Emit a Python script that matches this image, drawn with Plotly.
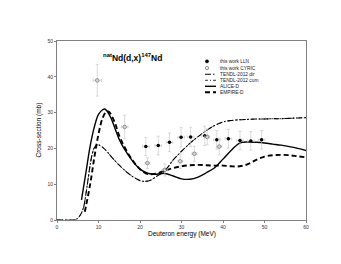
import plotly.graph_objects as go

# ---- data ----
lln_e = [21.4, 24.4, 27.1, 29.9, 32.2, 35.6, 38.5, 41.3, 44.1, 46.7, 49.3]
lln_cs = [20.5, 20.8, 21.7, 23.1, 23.2, 23.5, 22.4, 22.7, 22.2, 22.1, 22.4]
lln_dcs = [2.5, 2.6, 2.6, 2.7, 2.7, 2.7, 2.6, 2.6, 2.6, 2.6, 2.6]
lln_de = [0.8] * 11

cyric_e = [9.7, 16.3, 21.8, 26.0, 29.7, 33.1, 36.2, 39.1]
cyric_cs = [39.0, 26.0, 15.9, 14.0, 16.4, 18.5, 23.2, 20.5]
cyric_dcs = [4.4, 3.3, 1.5, 1.7, 2.0, 2.1, 2.2, 2.3]
cyric_de = [1.0, 0.8, 0.6, 0.6, 0.6, 0.6, 0.6, 0.6]

tendl_e = [0, 2, 4, 4.5, 5, 5.5, 6, 6.5, 7, 7.5, 8, 8.5, 9, 9.5, 10, 11, 12, 13, 14, 15, 16, 17,
           18, 19, 20, 21, 22, 23, 24, 25, 26, 27, 28, 29, 30, 31, 32, 34, 36, 38, 40, 42, 44,
           46, 48, 50, 52, 54, 56, 58, 60]
tendl_cum = [0, 0, 0, 0.1, 0.5, 1.2, 2.2, 4.0, 7.5, 11.5, 15.5, 18.5, 20.2, 20.9, 21.0, 20.3,
             19.2, 17.8, 16.5, 15.3, 14.2, 13.2, 12.3, 11.6, 11.0, 10.8, 10.9, 11.4, 12.2, 12.9,
             13.8, 15.2, 16.8, 18.0, 19.2, 20.3, 21.4, 23.3, 25.0, 26.4, 27.4, 27.8, 28.0, 28.1,
             28.2, 28.2, 28.3, 28.3, 28.4, 28.5, 28.6]
tendl_dir = [0, 0, 0, 0.1, 0.5, 1.2, 2.2, 4.0, 7.5, 11.5, 15.5, 18.5, 20.2, 20.9, 21.0, 20.3,
             19.2, 17.8, 16.5, 15.3, 14.2, 13.2, 12.3, 11.6, 11.0, 10.8, 10.9, 11.4, 12.2, 12.9,
             13.8, 15.2, 16.8, 18.0, 19.2, 20.3, 21.4, 23.3, 25.0, 26.4, 27.4, 27.8, 28.0, 28.1,
             28.2, 28.2, 28.3, 28.3, 28.4, 28.5, 28.6]

alice_e = [5.9, 7, 8, 9, 10, 11, 11.5, 12, 13, 14, 15, 16, 18, 20, 22, 24, 26, 28, 30, 32, 34,
           36, 38, 40, 42, 44, 46, 48, 50, 52, 54, 56, 58, 60]
alice_cs = [5.6, 13.5, 20.7, 26.0, 29.5, 30.8, 31.0, 30.5, 28.5, 25.5, 22.5, 20.3, 16.8, 14.2,
            13.0, 12.8, 13.0, 12.3, 11.5, 11.4, 12.0, 13.2, 14.6, 17.0, 19.5, 21.5, 21.8, 21.7,
            21.5, 21.2, 20.9, 20.5, 20.0, 19.4]

empire_e = [6.7, 7, 8, 9, 10, 11, 12, 12.5, 13, 14, 15, 16, 18, 20, 22, 24, 26, 28, 30, 32, 34,
            36, 38, 40, 42, 44, 46, 48, 50, 52, 54, 56, 58, 60]
empire_cs = [2.3, 4.0, 10.0, 17.5, 24.0, 28.5, 30.4, 30.2, 29.5, 27.0, 23.5, 21.0, 17.0, 14.2,
             12.8, 13.0, 13.8, 14.5, 15.0, 15.3, 15.4, 15.3, 15.2, 15.2, 15.0, 15.0, 15.6, 16.8,
             17.7, 18.1, 18.2, 18.1, 17.8, 17.5]

x_ticks = [0, 10, 20, 30, 40, 50, 60]
y_ticks = [0, 10, 20, 30, 40, 50]

FONT = "Liberation Sans, Arial, sans-serif"
ERRC = "#c8c8c8"

fig = go.Figure()

fig.add_trace(go.Scatter(x=tendl_e, y=tendl_dir, mode="lines", line_shape="spline",
                         line=dict(color="black", width=1.1, dash="6px,2px,1.5px,2px"),
                         name="TENDL-2012 dir"))
fig.add_trace(go.Scatter(x=tendl_e, y=tendl_cum, mode="lines", line_shape="spline",
                         line=dict(color="black", width=0.8, dash="3px,2px,1px,2px"),
                         name="TENDL-2012 cum"))
fig.add_trace(go.Scatter(x=alice_e, y=alice_cs, mode="lines", line_shape="spline",
                         line=dict(color="black", width=1.4), name="ALICE-D"))
fig.add_trace(go.Scatter(x=empire_e, y=empire_cs, mode="lines", line_shape="spline",
                         line=dict(color="black", width=1.9, dash="5px,3px"), name="EMPIRE-D"))

fig.add_trace(go.Scatter(
    x=lln_e, y=lln_cs, mode="markers", name="this work LLN",
    marker=dict(symbol="circle", size=3.5, color="black"),
    error_y=dict(type="data", array=lln_dcs, color=ERRC, thickness=0.7, width=1.5),
    error_x=dict(type="data", array=lln_de, color=ERRC, thickness=0.7, width=1.5)))
fig.add_trace(go.Scatter(
    x=cyric_e, y=cyric_cs, mode="markers", name="this work CYRIC",
    marker=dict(symbol="circle-open", size=3.5, color="#707070", line=dict(width=0.8)),
    error_y=dict(type="data", array=cyric_dcs, color=ERRC, thickness=0.7, width=1.5),
    error_x=dict(type="data", array=cyric_de, color=ERRC, thickness=0.7, width=1.5)))

axis_common = dict(showline=True, linecolor="#808080", linewidth=1, mirror=True,
                   showgrid=False, zeroline=False, ticks="outside", ticklen=2,
                   tickcolor="#808080", tickfont=dict(size=5, family=FONT, color="#333"))

fig.update_layout(
    width=341, height=264,
    margin=dict(l=49, r=43, t=33, b=52.4),
    paper_bgcolor="white", plot_bgcolor="white",
    showlegend=False,
    font=dict(family=FONT, color="black"),
    xaxis=dict(range=[0, 60], tickvals=x_ticks, **axis_common),
    yaxis=dict(range=[0, 50], tickvals=y_ticks, **axis_common),
)

anns = []
anns.append(dict(text="<b><sup>nat</sup>Nd(d,x)<sup>147</sup>Nd</b>", x=0.304, y=0.909,
                 xref="paper", yref="paper", showarrow=False, xanchor="center",
                 yanchor="middle", font=dict(size=8.5, family=FONT)))
anns.append(dict(text="Deuteron energy (MeV)", x=0.5, y=(211.6 - 226) / 178.6,
                 xref="paper", yref="paper", showarrow=False, xanchor="center",
                 yanchor="middle", font=dict(size=6.5, family=FONT)))
anns.append(dict(text="Cross-section (mb)", x=(30 - 49) / 249, y=0.5, textangle=-90,
                 xref="paper", yref="paper", showarrow=False, xanchor="center",
                 yanchor="middle", font=dict(size=6.5, family=FONT)))

# manual compact legend
leg_rows = [53.3, 60.0, 66.2, 72.2, 78.2, 84.2]
leg_labels = ["this work LLN", "this work CYRIC", "TENDL-2012 dir", "TENDL-2012 cum",
              "ALICE-D", "EMPIRE-D"]
def py(v):
    return (211.6 - v) / 178.6
def px(v):
    return (v - 49) / 249
for r, lab in zip(leg_rows, leg_labels):
    anns.append(dict(text=lab, x=px(209.5), y=py(r), xref="paper", yref="paper",
                     showarrow=False, xanchor="left", yanchor="middle",
                     font=dict(size=4.8, family=FONT, color="#222")))
shapes = []
# legend marker samples (pixel-sized circles)
shapes.append(dict(type="circle", xref="paper", yref="paper", xsizemode="pixel",
                   ysizemode="pixel", xanchor=px(199), yanchor=py(leg_rows[0]),
                   x0=-1.6, x1=1.6, y0=-1.6, y1=1.6, fillcolor="black",
                   line=dict(color="black", width=0.5)))
shapes.append(dict(type="circle", xref="paper", yref="paper", xsizemode="pixel",
                   ysizemode="pixel", xanchor=px(199), yanchor=py(leg_rows[1]),
                   x0=-1.6, x1=1.6, y0=-1.6, y1=1.6, fillcolor="white",
                   line=dict(color="#707070", width=0.8)))
styles = [(1.1, "6px,2px,1.5px,2px"), (0.8, "3px,2px,1px,2px"), (1.4, "solid"), (1.9, "5px,3px")]
for r, (w, d) in zip(leg_rows[2:], styles):
    shapes.append(dict(type="line", xref="paper", yref="paper", x0=px(197), x1=px(208),
                       y0=py(r), y1=py(r), line=dict(color="black", width=w, dash=d)))

fig.update_layout(annotations=anns, shapes=shapes)
fig.write_html("out.html")
